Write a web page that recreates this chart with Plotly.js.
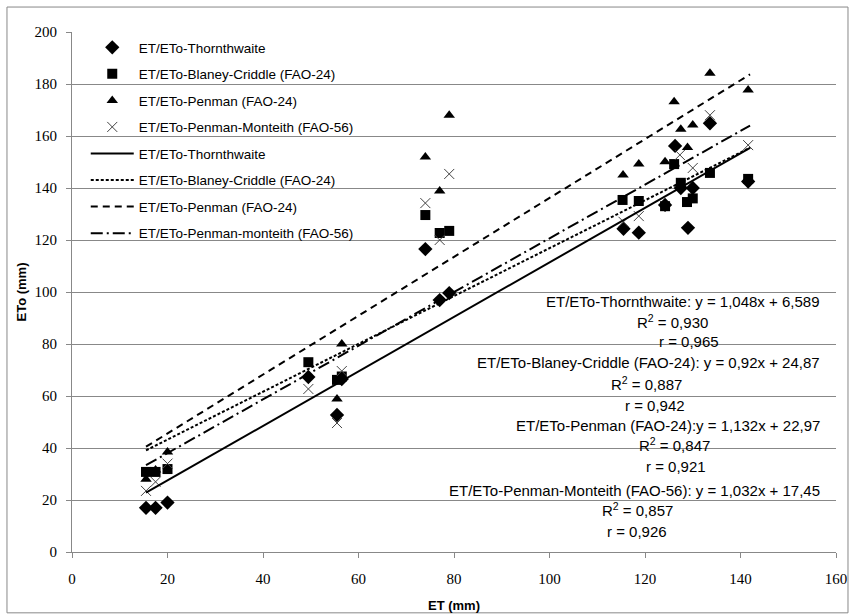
<!DOCTYPE html>
<html>
<head>
<meta charset="utf-8">
<script src="https://cdn.plot.ly/plotly-3.0.1.min.js"></script>
<style>html,body{margin:0;padding:0;background:#fff;}#chart{width:852px;height:615px;}</style>
</head>
<body>
<div id="chart"></div>
<script>
// ---- data ----
const thornX = [15.5, 17.5, 20, 49.5, 55.5, 56.5, 74, 77, 79, 115.5, 118.7, 124.2, 126.3, 127.5, 129, 130, 133.6, 141.6];
const thornY = [17, 17, 19, 67.3, 52.7, 66.5, 116.5, 96.9, 99.6, 124.3, 122.8, 133.5, 156.2, 140, 124.7, 140, 164.9, 142.5];

const blaneyX = [15.5, 17.5, 20, 49.5, 55.5, 56.5, 74, 77, 79, 115.3, 118.7, 124.2, 126.1, 127.5, 128.8, 130, 133.6, 141.6];
const blaneyY = [30.8, 30.8, 31.9, 73, 66.2, 67.5, 129.6, 122.7, 123.5, 135.4, 135, 133, 149.2, 142, 134.6, 136, 145.8, 143.5];

const penmanX = [15.5, 17.5, 20, 55.5, 56.5, 74, 77, 79, 115.4, 118.7, 124.2, 126.1, 127.5, 128.9, 130, 133.6, 141.6];
const penmanY = [28, 31.5, 38.5, 58.8, 80, 151.9, 138.8, 168, 145, 149.2, 150.1, 173.2, 162.6, 155.6, 164.2, 184.1, 177.7];

const pmX = [15.5, 17.5, 20, 49.5, 55.5, 56.5, 74, 77, 79, 115.5, 118.7, 127.3, 130, 133.6, 141.6];
const pmY = [23.5, 27, 34, 62.7, 49.6, 69.6, 134.2, 120, 145.4, 127, 129.2, 152.7, 147.7, 168, 156.5];

// trend line end points (as drawn)
const trendX = [15.5, 142];
const thornTrendY = [22.8, 155.4];
const blaneyTrendY = [39.1, 155.5];
const penmanTrendY = [40.5, 183.7];
const pmTrendY = [33.4, 164];

const xTicks = [0, 20, 40, 60, 80, 100, 120, 140, 160];
const yTicks = [0, 20, 40, 60, 80, 100, 120, 140, 160, 180, 200];

const markerNames = ['ET/ETo-Thornthwaite', 'ET/ETo-Blaney-Criddle (FAO-24)', 'ET/ETo-Penman (FAO-24)', 'ET/ETo-Penman-Monteith (FAO-56)'];
const lineNames = ['ET/ETo-Thornthwaite', 'ET/ETo-Blaney-Criddle (FAO-24)', 'ET/ETo-Penman (FAO-24)', 'ET/ETo-Penman-monteith (FAO-56)'];

const eqTexts = [
  'ET/ETo-Thornthwaite: y = 1,048x + 6,589', 'R<sup>2</sup> = 0,930', 'r = 0,965',
  'ET/ETo-Blaney-Criddle (FAO-24): y = 0,92x + 24,87', 'R<sup>2</sup> = 0,887', 'r = 0,942',
  'ET/ETo-Penman (FAO-24):y = 1,132x + 22,97', 'R<sup>2</sup> = 0,847', 'r = 0,921',
  'ET/ETo-Penman-Monteith (FAO-56): y = 1,032x + 17,45', 'R<sup>2</sup> = 0,857', 'r = 0,926'
];

const FONT = 'Liberation Sans, Arial, sans-serif';
const TICKFONT = 'Liberation Serif, serif';
const traces = [];
const mk = [
  {x: thornX, y: thornY, symbol: 'diamond', size: 11, color: '#000'},
  {x: blaneyX, y: blaneyY, symbol: 'square', size: 10, color: '#000'},
  {x: penmanX, y: penmanY, symbol: 'triangle-up', size: 10, color: '#000'},
  {x: pmX, y: pmY, symbol: 'x-thin-open', size: 10, color: '#444'}
];
mk.forEach((m, i) => {
  traces.push({
    type: 'scatter', mode: 'markers', x: m.x, y: m.y, name: markerNames[i],
    legendgroup: 'm' + i,
    marker: {symbol: m.symbol, size: m.size, color: m.color, line: {color: m.color, width: m.symbol === 'x-thin-open' ? 1 : 0}},
    hoverinfo: 'x+y'
  });
});
const ln = [
  {y: thornTrendY, dash: 'solid'},
  {y: blaneyTrendY, dash: '3px,2px'},
  {y: penmanTrendY, dash: '7px,5px'},
  {y: pmTrendY, dash: '12px,4px,2px,4px'}
];
ln.forEach((l, i) => {
  traces.push({
    type: 'scatter', mode: 'lines', x: trendX, y: l.y, name: lineNames[i],
    legendgroup: 'l' + i,
    line: {color: '#000', width: 2, dash: l.dash},
    hoverinfo: 'skip'
  });
});

const eqPos = [
  {x: 157.07, y: 96.3, anchor: 'right'}, {x: 125.7, y: 88.5, anchor: 'center'}, {x: 129.2, y: 80.8, anchor: 'center'},
  {x: 157.07, y: 72.7, anchor: 'right'}, {x: 120.4, y: 65, anchor: 'center'}, {x: 122.1, y: 56.5, anchor: 'center'},
  {x: 157.07, y: 48.8, anchor: 'right'}, {x: 126.1, y: 41.5, anchor: 'center'}, {x: 126.5, y: 32.7, anchor: 'center'},
  {x: 157.07, y: 23.8, anchor: 'right'}, {x: 118.5, y: 16.2, anchor: 'center'}, {x: 118.3, y: 7.7, anchor: 'center'}
];
const annotations = eqTexts.map((t, i) => ({
  text: t, x: eqPos[i].x, y: eqPos[i].y, xref: 'x', yref: 'y',
  xanchor: eqPos[i].anchor, yanchor: 'middle', showarrow: false,
  font: {family: FONT, size: 15, color: '#000'}
}));

const layout = {
  width: 852, height: 615,
  margin: {l: 72, r: 16, t: 32, b: 63},
  paper_bgcolor: '#fff', plot_bgcolor: '#fff',
  font: {family: FONT, size: 13, color: '#000'},
  showlegend: true,
  legend: {
    x: 0.018, y: 1.0, xanchor: 'left', yanchor: 'top',
    bgcolor: 'rgba(0,0,0,0)', borderwidth: 0,
    traceorder: 'grouped', tracegroupgap: 6, itemwidth: 43,
    font: {family: FONT, size: 13.5, color: '#000'}
  },
  xaxis: {
    range: [0, 160], tickvals: xTicks, ticktext: xTicks.map(String),
    showgrid: false, zeroline: false, showline: true, linecolor: '#888', linewidth: 1,
    ticks: 'outside', ticklen: 5, tickcolor: '#888', ticklabelstandoff: 8,
    tickfont: {family: TICKFONT, size: 15, color: '#000'},
    title: {text: '<b>ET (mm)</b>', font: {family: FONT, size: 13, color: '#000'}, standoff: 14}
  },
  yaxis: {
    range: [0, 200], tickvals: yTicks, ticktext: yTicks.map(String),
    showgrid: true, gridcolor: '#888', gridwidth: 1, zeroline: false,
    showline: true, linecolor: '#888', linewidth: 1,
    ticks: 'outside', ticklen: 5, tickcolor: '#888', ticklabelstandoff: 6,
    tickfont: {family: TICKFONT, size: 15, color: '#000'},
    title: {text: '<b>ETo (mm)</b>', font: {family: FONT, size: 13, color: '#000'}, standoff: 4}
  },
  annotations: annotations,
  shapes: [{
    type: 'rect', xref: 'paper', yref: 'paper',
    x0: -0.0851, x1: 1.0157, y0: -0.117, y1: 1.048,
    line: {color: '#888', width: 1}, fillcolor: 'rgba(0,0,0,0)', layer: 'below'
  }]
};

Plotly.newPlot('chart', traces, layout, {displayModeBar: false, staticPlot: true});
</script>
</body>
</html>
